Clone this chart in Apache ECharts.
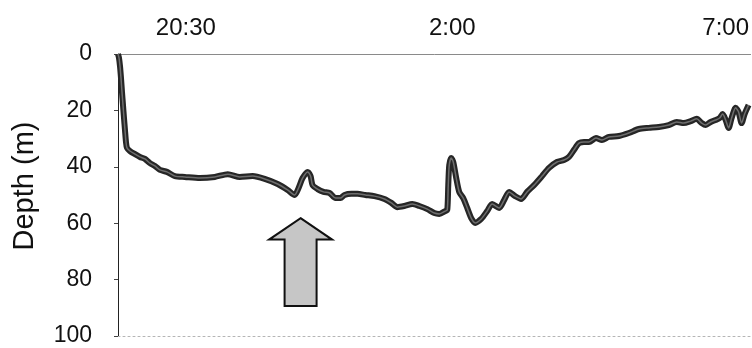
<!DOCTYPE html>
<html>
<head>
<meta charset="utf-8">
<script src="https://cdn.jsdelivr.net/npm/echarts@6/dist/echarts.min.js"></script>
<style>html,body{margin:0;padding:0;background:#fff}#c{width:752px;height:348px}</style>
</head>
<body>
<div id="c"></div>
<script>
// sample position along the record (arbitrary time units)
var samples = [0,1,2,3,4,5,6,7,8,9,12,17,22,27,32,37,42,49,57,67,82,97,110,122,135,147,160,170,177,181,185,190,193,195,200,206,212,218,223,227,234,240,248,257,267,274,280,287,295,302,310,317,322,328,330,331,332,334,336,339,342,346,350,354,358,364,370,375,382,387,392,398,404,410,417,425,432,440,447,452,457,462,467,472,479,485,492,502,512,522,532,542,552,560,567,574,580,585,589,594,599,603,606,609,612,615,619,622,625,628,632];
// depth (m)
var depth = [0,1.4,4.3,8.5,13.5,18.1,22.7,27,31.2,33.3,34.4,35.5,36.5,37.2,38.7,39.7,41.1,41.8,43.3,43.6,44,43.6,42.6,43.6,43.3,44.3,46.1,48.2,50,47.5,44,41.8,43.3,46.5,47.9,48.9,49.3,51.1,51.1,50,49.6,49.6,50,50.4,51.4,52.8,54.3,53.9,53.2,53.9,55,56.4,56.7,55.7,55.3,46.5,39.4,36.9,38.3,44,48.9,51.1,54.6,58.2,59.9,58.5,55.7,53.2,54.6,51.8,48.9,50.4,51.4,48.9,46.5,43.3,40.4,38.3,37.6,36.5,34,31.6,31.2,31.2,29.8,30.5,29.4,29.1,28,26.6,26.2,25.9,25.2,24.1,24.5,23.8,23,24.5,25.2,24.1,23.4,22.7,21.3,23.4,26.2,22.7,19.1,20.6,24.5,21.3,18.1];
// time tick labels and their positions
var tickPos = [68, 335, 609];
var tickLabels = ['20:30', '2:00', '7:00'];
// depth ticks
var depthMin = 0, depthMax = 100, depthStep = 20;
// arrow annotation (sample position, tip depth, head base depth, tail depth)
var arrowAt = 183, arrowTip = 58.2, arrowHead = 65.8, arrowTail = 89.4;

var FONT = 'Liberation Sans, Arial, sans-serif';
var pts = samples.map(function (s, i) { return [s, depth[i]]; });

var chart = echarts.init(document.getElementById('c'));
chart.setOption({
  animation: false,
  backgroundColor: '#fff',
  grid: { left: 118, right: 0, top: 54, bottom: 12, containLabel: false },
  xAxis: [{
    type: 'value', position: 'top', min: 0, max: 634,
    axisLine: { show: true, lineStyle: { color: '#8a8a8a', width: 1 } },
    axisTick: { show: false },
    splitLine: { show: false },
    axisLabel: {
      show: true, customValues: tickPos, fontSize: 24, color: '#111', fontFamily: FONT, margin: 14,
      formatter: function (v) { var i = tickPos.indexOf(v); return i >= 0 ? tickLabels[i] : ''; }
    }
  }, {
    type: 'value', position: 'bottom', min: 0, max: 634,
    axisLine: { show: true, onZero: false, lineStyle: { color: '#b5b5b5', width: 1, type: [2, 3] } },
    axisTick: { show: false }, axisLabel: { show: false }, splitLine: { show: false }
  }],
  yAxis: {
    type: 'value', inverse: true, min: depthMin, max: depthMax, interval: depthStep,
    axisLine: { show: true, lineStyle: { color: '#222', width: 1 } },
    axisTick: { show: true, length: 4, lineStyle: { color: '#444' } },
    splitLine: { show: false },
    axisLabel: { fontSize: 23, color: '#111', fontFamily: FONT, margin: 26 }
  },
  series: [{
    type: 'line', data: pts, showSymbol: false, xAxisIndex: 0, smooth: 0.25,
    lineStyle: { color: '#262626', width: 6 }, z: 3
  }, {
    type: 'line', data: pts, showSymbol: false, xAxisIndex: 0, smooth: 0.25,
    lineStyle: { color: '#6e6e6e', width: 1.5 }, z: 4
  }]
});

function drawArrow() {
  var tip = chart.convertToPixel({ xAxisIndex: 0, yAxisIndex: 0 }, [arrowAt, arrowTip]);
  var head = chart.convertToPixel({ xAxisIndex: 0, yAxisIndex: 0 }, [arrowAt, arrowHead]);
  var tail = chart.convertToPixel({ xAxisIndex: 0, yAxisIndex: 0 }, [arrowAt, arrowTail]);
  var cx = tip[0], hw = 31.5, sw = 16;
  chart.setOption({
    graphic: [{
      type: 'polygon', z: 10,
      shape: { points: [[cx, tip[1]], [cx + hw, head[1]], [cx + sw, head[1]], [cx + sw, tail[1]],
                        [cx - sw, tail[1]], [cx - sw, head[1]], [cx - hw, head[1]]] },
      style: { fill: '#c6c6c6', stroke: '#111', lineWidth: 2, lineJoin: 'miter' }
    }, {
      type: 'text', z: 10, x: 25, y: 186, rotation: Math.PI / 2,
      style: { text: 'Depth (m)', fontSize: 29, fontFamily: FONT, fill: '#111', align: 'center', verticalAlign: 'middle' }
    }]
  });
}
drawArrow();
</script>
</body>
</html>
